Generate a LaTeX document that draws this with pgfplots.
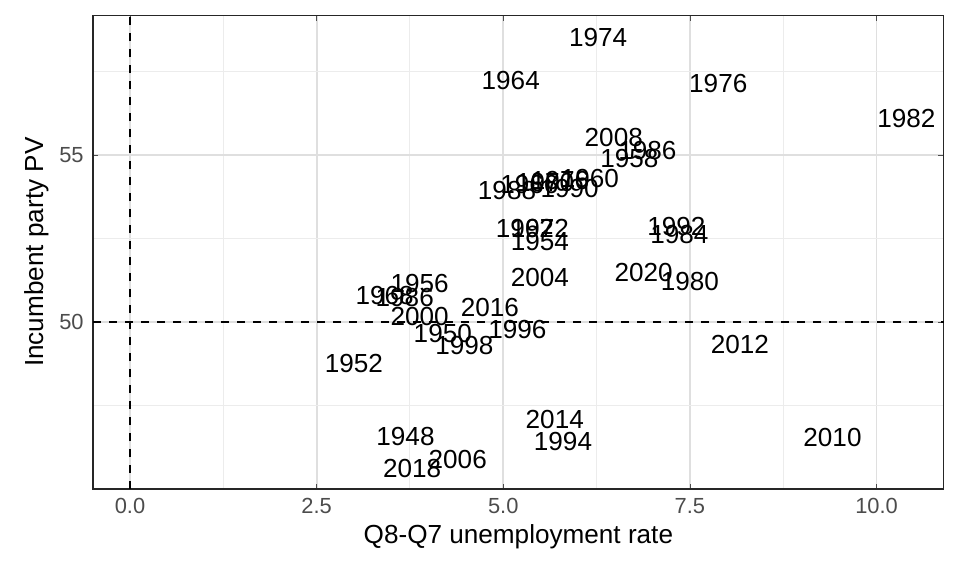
\documentclass[border=0pt]{standalone}
\usepackage{pgfplots}
\pgfplotsset{compat=1.18}
\usepackage{fontspec}
\setmainfont{Liberation Sans}
\usetikzlibrary{calc}
\begin{document}
\begin{tikzpicture}
\begin{axis}[name=ax, scale only axis, width=319pt, height=177.7pt,
 xmin=-0.495, xmax=10.9, ymin=45.0, ymax=59.19,
 xtick={0,2.5,5,7.5,10}, xticklabels={0.0,2.5,5.0,7.5,10.0},
 ytick={50,55}, minor xtick={1.25,3.75,6.25,8.75}, minor ytick={47.5,52.5,57.5},
 grid=both, major grid style={gray!25, line width=0.7pt}, minor grid style={gray!15, line width=0.4pt},
 axis line style={black!85, line width=0.5pt},
 tick style={black!70}, major tick length=2pt, minor tick length=0pt,
 tick label style={font=\fontsize{8.2}{9}\selectfont, text=black!70},
 /pgf/number format/assume math mode=true,
 xlabel={Q8-Q7 unemployment rate}, ylabel={Incumbent party PV},
 label style={font=\fontsize{9.8}{11}\selectfont},
 xlabel style={yshift=3pt}, ylabel style={yshift=-3pt},
 clip=false]
\addplot[dashed, line width=0.7pt] coordinates {(0,45) (0,59.19)};
\addplot[dashed, line width=0.7pt] coordinates {(-0.495,50) (10.9,50)};
\addplot[only marks, mark=none, nodes near coords, point meta=explicit symbolic,
 nodes near coords align={center}, every node near coord/.style={font=\fontsize{9.8}{11}\selectfont, inner sep=0pt, anchor=center}]
 table[meta=l] {
x y l
6.27 58.53 1974
5.10 57.22 1964
7.88 57.13 1976
10.40 56.11 1982
6.48 55.54 2008
6.93 55.15 1986
6.69 54.91 1958
6.16 54.31 1960
5.89 54.01 1990
5.05 53.95 1988
5.56 54.19 1970
5.76 54.25 1976
5.35 54.13 1966
5.49 52.81 1972
5.29 52.81 1962
5.49 52.40 1954
7.32 52.87 1992
7.36 52.63 1984
5.49 51.32 2004
6.88 51.47 2020
7.50 51.23 1980
3.88 51.17 1956
3.41 50.81 1968
3.68 50.75 1986
4.82 50.45 2016
3.88 50.18 2000
4.19 49.67 1950
5.19 49.79 1996
4.48 49.31 1998
8.17 49.34 2012
3.00 48.77 1952
5.69 47.07 2014
3.69 46.56 1948
5.80 46.41 1994
9.41 46.53 2010
4.39 45.87 2006
3.78 45.63 2018
};
\end{axis}
\useasboundingbox ($(ax.south west)+(-34.9pt,-32.6pt)$) rectangle ++(360pt,216pt);
\end{tikzpicture}
\end{document}
